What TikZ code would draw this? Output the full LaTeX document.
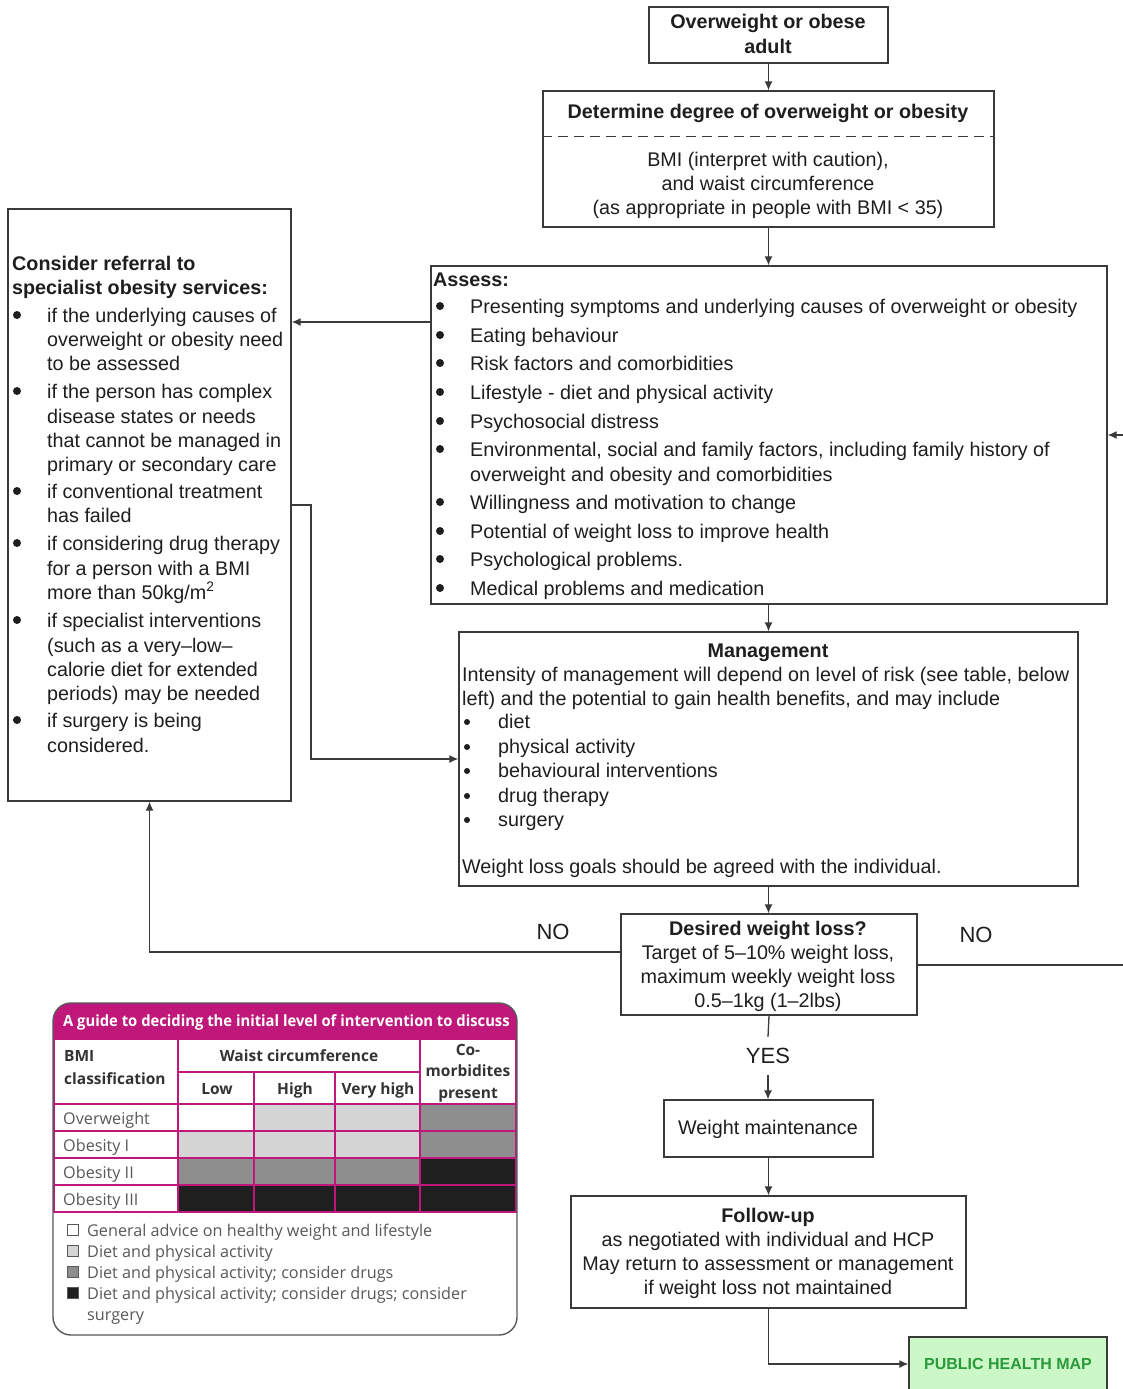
\documentclass[tikz,border=0pt]{standalone}
\usepackage{fontspec}
\setmainfont{Liberation Sans}
\newfontfamily\tabfont{Open Sans}
\usetikzlibrary{arrows.meta,fit}
\definecolor{boxgray}{HTML}{3A3A3A}
\definecolor{txt}{HTML}{1E1E1E}
\definecolor{mag}{RGB}{192,24,122}
\definecolor{tabtxt}{HTML}{595959}
\definecolor{tabhd}{HTML}{333333}
\definecolor{lgray}{HTML}{D4D4D4}
\definecolor{mgray}{HTML}{8E8E8E}
\definecolor{dgray}{HTML}{1F1F1F}
\definecolor{phmfill}{HTML}{CCF7C6}
\definecolor{phmtext}{HTML}{2A9A3C}
\begin{document}
\begin{tikzpicture}[x=1pt,y=-1pt,
 box/.style={draw=boxgray,line width=1.3pt,inner sep=0pt},
 t/.style={inner sep=0pt,anchor=base west,text=txt,font=\fontsize{19.75}{24}\selectfont},
 tc/.style={t,anchor=base},
 tb/.style={t,font=\fontsize{19.75}{24}\selectfont\bfseries},
 tbc/.style={tb,anchor=base},
 ln/.style={draw=boxgray,line width=1.3pt},
 arr/.style={ln,-{Latex[length=9pt,width=8pt]}},
 bul/.style={circle,fill=txt,inner sep=0pt,minimum size=8pt},
 sbul/.style={circle,fill=txt,inner sep=0pt,minimum size=6pt},
 tab/.style={inner sep=0pt,anchor=base west,text=tabtxt,font=\tabfont\fontsize{16.2}{18}\selectfont},
 tabh/.style={inner sep=0pt,anchor=base,text=tabhd,font=\tabfont\bfseries\fontsize{15.5}{18}\selectfont},
 grid/.style={draw=mag,line width=2pt},
 lgbox/.style={draw=tabtxt,line width=0.8pt,minimum size=11pt,inner sep=0pt},
]
\useasboundingbox (0,0) rectangle (1123,1389);
\fill[white] (0,0) rectangle (1123,1389);

% ---------- boxes ----------
\node[box,fit={(649,7)(888,63)}] (b1) {};
\node[box,fit={(543,91)(994,227)}] (b2) {};
\node[box,fit={(431,266)(1107,604)}] (as) {};
\node[box,fit={(8,209)(291,801)}] (ref) {};
\node[box,fit={(459,632)(1078,886)}] (mg) {};
\node[box,fit={(621,914)(917,1015)}] (des) {};
\node[box,fit={(664,1100)(873,1157)}] (wm) {};
\node[box,fit={(571,1196)(966,1308)}] (fu) {};
\node[box,fill=phmfill,fit={(909,1337)(1107,1391)}] (phm) {};

% ---------- texts ----------
\node[tbc] (b1a) at (768,29) {Overweight or obese};
\node[tbc] (b1b) at (768,53) {adult};

\node[tbc] (b2a) at (768,118) {Determine degree of overweight or obesity};
\draw[ln,line width=1pt,dash pattern=on 10pt off 6pt] (b2.west |- 0,136) -- (b2.east |- 0,136);
\node[tc] (b2b) at (768,166) {BMI (interpret with caution),};
\node[tc] (b2c) at (768,190) {and waist circumference};
\node[tc] (b2d) at (768,214) {(as appropriate in people with BMI < 35)};

\node[tb] (asT) at (433,286) {Assess:};
\foreach \n/\y in {1/313,2/342,3/370,4/399,5/428,6/456,7/509,8/538,9/566,10/595}
  \node[bul] (asb\n) at (440,{\y-7}) {};
\node[t] (as1) at (470,313) {Presenting symptoms and underlying causes of overweight or obesity};
\node[t] (as2) at (470,342) {Eating behaviour};
\node[t] (as3) at (470,370) {Risk factors and comorbidities};
\node[t] (as4) at (470,399) {Lifestyle - diet and physical activity};
\node[t] (as5) at (470,428) {Psychosocial distress};
\node[t] (as6) at (470,456) {Environmental, social and family factors, including family history of};
\node[t] (as6b) at (470,481) {overweight and obesity and comorbidities};
\node[t] (as7) at (470,509) {Willingness and motivation to change};
\node[t] (as8) at (470,538) {Potential of weight loss to improve health};
\node[t] (as9) at (470,566) {Psychological problems.};
\node[t] (as10) at (470,595) {Medical problems and medication};

\node[tb] (rfT1) at (12,270) {Consider referral to};
\node[tb] (rfT2) at (12,294) {specialist obesity services:};
\foreach \n/\y in {1/322,2/398,3/498,4/550,5/627,6/727}
  \node[bul] (rfb\n) at (17,{\y-7}) {};
\node[t] (rf1) at (47,322) {if the underlying causes of};
\node[t] (rf2) at (47,346) {overweight or obesity need};
\node[t] (rf3) at (47,370) {to be assessed};
\node[t] (rf4) at (47,398) {if the person has complex};
\node[t] (rf5) at (47,423) {disease states or needs};
\node[t] (rf6) at (47,447) {that cannot be managed in};
\node[t] (rf7) at (47,471) {primary or secondary care};
\node[t] (rf8) at (47,498) {if conventional treatment};
\node[t] (rf9) at (47,522) {has failed};
\node[t] (rf10) at (47,550) {if considering drug therapy};
\node[t] (rf11) at (47,575) {for a person with a BMI};
\node[t] (rf12) at (47,599) {more than 50kg/m\textsuperscript{2}};
\node[t] (rf13) at (47,627) {if specialist interventions};
\node[t] (rf14) at (47,652) {(such as a very–low–};
\node[t] (rf15) at (47,676) {calorie diet for extended};
\node[t] (rf16) at (47,700) {periods) may be needed};
\node[t] (rf17) at (47,727) {if surgery is being};
\node[t] (rf18) at (47,752) {considered.};

\node[tbc] (mgT) at (768,657) {Management};
\node[t] (mg1) at (462,681) {Intensity of management will depend on level of risk (see table, below};
\node[t] (mg2) at (462,705) {left) and the potential to gain health benefits, and may include};
\foreach \n/\y in {1/728,2/753,3/777,4/802,5/826}
  \node[sbul] (mgb\n) at (467,{\y-6}) {};
\node[t] (mg3) at (498,728) {diet};
\node[t] (mg4) at (498,753) {physical activity};
\node[t] (mg5) at (498,777) {behavioural interventions};
\node[t] (mg6) at (498,802) {drug therapy};
\node[t] (mg7) at (498,826) {surgery};
\node[t] (mg8) at (462,873) {Weight loss goals should be agreed with the individual.};

\node[tbc] (dsT) at (768,935) {Desired weight loss?};
\node[tc] (ds1) at (768,959) {Target of 5–10\% weight loss,};
\node[tc] (ds2) at (768,983) {maximum weekly weight loss};
\node[tc] (ds3) at (768,1007) {0.5–1kg (1–2lbs)};

\node[tc] (wmT) at (768,1134) {Weight maintenance};

\node[tbc] (fuT) at (768,1222) {Follow-up};
\node[tc] (fu1) at (768,1246) {as negotiated with individual and HCP};
\node[tc] (fu2) at (768,1270) {May return to assessment or management};
\node[tc] (fu3) at (768,1294) {if weight loss not maintained};

\node[inner sep=0pt,text=phmtext,font=\fontsize{16}{18}\selectfont\bfseries] (phmT) at (phm.center |- 0,1364) {PUBLIC HEALTH MAP};

\node[inner sep=0pt,text=txt,font=\fontsize{22}{24}\selectfont] (no1) at (553,932) {NO};
\node[inner sep=0pt,text=txt,font=\fontsize{22}{24}\selectfont] (no2) at (976,935) {NO};
\node[inner sep=0pt,minimum height=38pt,text=txt,font=\fontsize{22}{24}\selectfont] (yes) at (768,1056) {YES};

% ---------- connectors ----------
\coordinate (rin) at (1123,435);
\coordinate (rout) at (1123,965);
\coordinate (bend1) at (311,505);
\coordinate (bend2) at (311,759);
\draw[arr] (b1.south) -- (b1.south |- b2.north);
\draw[arr] (b2.south) -- (b2.south |- as.north);
\draw[arr] (as.west |- 0,322) -- (ref.east |- 0,322);
\draw[arr] (rin) -- (as.east |- rin);
\draw[arr] (ref.east |- bend1) -- (bend1) -- (bend2) -- (mg.west |- bend2);
\draw[arr] (as.south -| mg.north) -- (mg.north);
\draw[arr] (mg.south) -- (mg.south |- des.north);
\draw[arr] (des.west |- 0,952) -| (ref.south);
\draw[ln] (des.east |- rout) -- (rout);
\draw[ln] (des.south) -- (yes.north);
\draw[arr] (yes.south) -- (yes.south |- wm.north);
\draw[arr] (wm.south) -- (wm.south |- fu.north);
\draw[arr] (fu.south) |- (phm.west |- 0,1364);

% ---------- table ----------
\begin{scope}
\clip[rounded corners=18pt] (53,1003) rectangle (517,1335);
\fill[mag] (53,1003) rectangle (517,1040);
\foreach \r/\ya/\yb/\ca/\cb/\cc/\cd in {0/1104/1131/white/lgray/lgray/mgray,1/1131/1158/lgray/lgray/lgray/mgray,2/1158/1185/mgray/mgray/mgray/dgray,3/1185/1212/dgray/dgray/dgray/dgray}{
  \fill[\ca] (178,\ya) rectangle (254,\yb);
  \fill[\cb] (254,\ya) rectangle (335,\yb);
  \fill[\cc] (335,\ya) rectangle (420,\yb);
  \fill[\cd] (420,\ya) rectangle (517,\yb);
}
\foreach \y in {1104,1131,1158,1185,1212} \draw[grid] (53,\y) -- (517,\y);
\draw[grid] (178,1072) -- (420,1072);
\draw[grid] (178,1040) -- (178,1212);
\draw[grid] (254,1072) -- (254,1212);
\draw[grid] (335,1072) -- (335,1212);
\draw[grid] (420,1040) -- (420,1212);
\draw[grid] (54,1040) -- (54,1212);
\draw[grid] (516,1040) -- (516,1212);
\end{scope}
\node[draw=tabtxt,line width=1.4pt,rounded corners=18pt,inner sep=0pt,fit={(53,1003)(517,1335)}] (tbl) {};

\node[inner sep=0pt,anchor=base west,text=white,font=\tabfont\bfseries\fontsize{15.5}{17}\selectfont] (tblT) at (63,1026) {\scalebox{0.955}[1]{A guide to deciding the initial level of intervention to discuss}};
\node[tabh,anchor=base west] (h1) at (64,1061) {BMI};
\node[tabh,anchor=base west] (h2) at (64,1084) {classification};
\node[tabh] (h3) at (299,1061) {Waist circumference};
\node[tabh] (h4) at (217,1094) {Low};
\node[tabh] (h5) at (295,1094) {High};
\node[tabh] (h6) at (378,1094) {Very high};
\node[tabh] (h7) at (468,1055) {Co-};
\node[tabh] (h8) at (468,1076) {morbidites};
\node[tabh] (h9) at (468,1098) {present};

\node[tab] (r1) at (63,1124) {Overweight};
\node[tab] (r2) at (63,1151) {Obesity I};
\node[tab] (r3) at (63,1178) {Obesity II};
\node[tab] (r4) at (63,1205) {Obesity III};

\node[lgbox,fill=white] (lg1) at (73,1230) {};
\node[lgbox,fill=lgray] (lg2) at (73,1251) {};
\node[lgbox,fill=mgray] (lg3) at (73,1272) {};
\node[lgbox,fill=dgray] (lg4) at (73,1293) {};
\node[tab] (lt1) at (87,1236) {General advice on healthy weight and lifestyle};
\node[tab] (lt2) at (87,1257) {Diet and physical activity};
\node[tab] (lt3) at (87,1278) {Diet and physical activity; consider drugs};
\node[tab] (lt4) at (87,1299) {Diet and physical activity; consider drugs; consider};
\node[tab] (lt5) at (87,1320) {surgery};
\end{tikzpicture}
\end{document}
